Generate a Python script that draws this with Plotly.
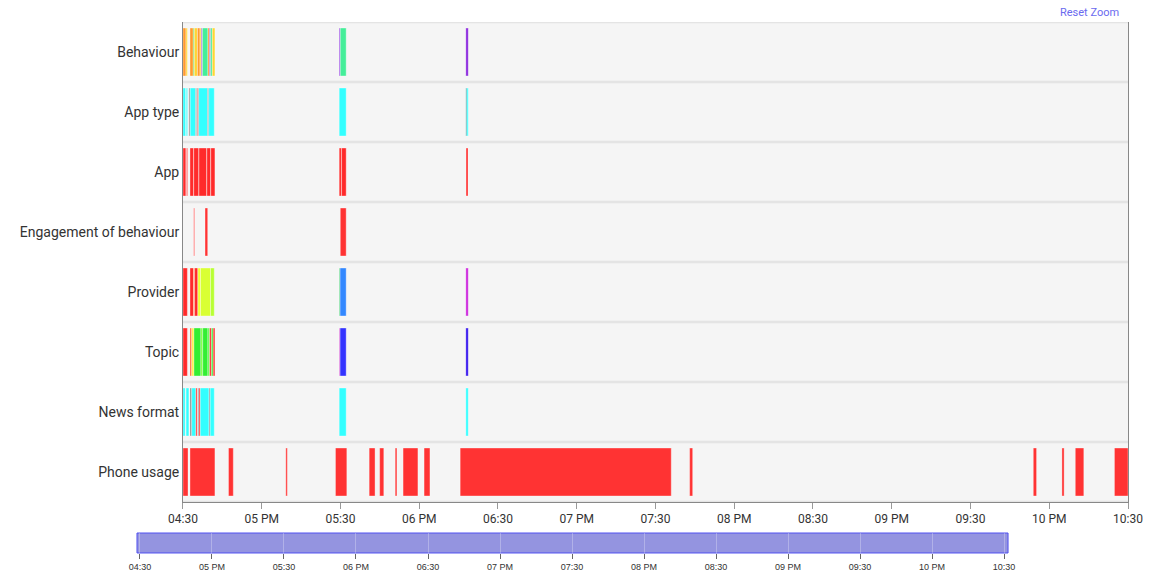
import plotly.graph_objects as go
from datetime import datetime

DAY = "2023-01-01 "

rows = ["Behaviour", "App type", "App", "Engagement of behaviour",
        "Provider", "Topic", "News format", "Phone usage"]

tick_times = ["16:30", "17:00", "17:30", "18:00", "18:30", "19:00", "19:30",
              "20:00", "20:30", "21:00", "21:30", "22:00", "22:30"]
tick_labels = ["04:30", "05 PM", "05:30", "06 PM", "06:30", "07 PM", "07:30",
               "08 PM", "08:30", "09 PM", "09:30", "10 PM", "10:30"]

OR, YE, GR, MI, PU = "#ff9a2e", "#ffd633", "#66dd44", "#44ee99", "#8a2be2"
CY, GY, RD, TE = "#33ffff", "#8c8c8c", "#ff2a2a", "#2a9d9d"

behaviour = [("16:30:00", "16:31:09", OR), ("16:31:09", "16:31:40", YE),
             ("16:32:40", "16:33:55", OR), ("16:33:55", "16:34:20", GR),
             ("16:34:20", "16:35:30", YE), ("16:35:30", "16:36:30", OR),
             ("16:36:30", "16:37:00", YE), ("16:37:00", "16:37:25", PU),
             ("16:37:25", "16:39:30", MI), ("16:39:30", "16:40:05", OR),
             ("16:40:05", "16:40:30", PU), ("16:40:30", "16:41:10", MI),
             ("16:41:10", "16:42:10", YE),
             ("17:29:30", "17:29:55", PU), ("17:29:55", "17:32:10", MI),
             ("18:17:45", "18:18:40", "#8822dd")]

app_type = [("16:30:00", "16:31:00", CY), ("16:31:15", "16:31:45", CY),
            ("16:32:15", "16:32:45", GY), ("16:32:45", "16:34:50", CY),
            ("16:34:50", "16:35:15", GY), ("16:35:15", "16:35:30", CY),
            ("16:35:30", "16:35:58", RD), ("16:35:58", "16:39:20", CY),
            ("16:39:20", "16:39:48", GY), ("16:39:48", "16:41:55", CY),
            ("17:29:30", "17:32:10", CY),
            ("18:17:45", "18:18:10", TE), ("18:18:10", "18:18:40", CY)]

app = [("16:30:00", "16:31:05", RD), ("16:31:20", "16:31:45", RD),
       ("16:32:40", "16:34:00", RD), ("16:34:05", "16:36:00", RD),
       ("16:36:05", "16:39:00", RD), ("16:39:05", "16:40:30", RD),
       ("16:40:35", "16:42:10", RD),
       ("17:29:30", "17:30:20", RD), ("17:30:25", "17:32:10", RD),
       ("18:17:50", "18:18:35", RD)]

engagement = [("16:34:00", "16:34:30", "#ff8080"),
              ("16:38:23", "16:39:25", "#ff3333"),
              ("17:29:55", "17:32:10", "#ff3333")]

provider = [("16:30:00", "16:31:40", RD), ("16:32:40", "16:34:00", RD),
            ("16:34:00", "16:34:25", "#ff8833"), ("16:34:25", "16:35:40", RD),
            ("16:35:40", "16:36:40", "#eeff33"), ("16:36:40", "16:40:30", "#d9ff33"),
            ("16:40:30", "16:41:55", "#b8ff33"),
            ("17:29:30", "17:29:50", "#33cc66"), ("17:29:50", "17:32:10", "#3388ff"),
            ("18:17:45", "18:18:40", "#cc22dd")]

topic = [("16:30:00", "16:31:40", RD), ("16:32:40", "16:33:20", "#ff6633"),
         ("16:33:20", "16:34:10", "#ffee44"), ("16:34:10", "16:36:50", "#33ee33"),
         ("16:36:50", "16:37:30", "#77ff33"), ("16:37:30", "16:39:30", "#33ee33"),
         ("16:39:30", "16:40:10", "#55ff44"), ("16:40:10", "16:40:50", RD),
         ("16:40:50", "16:41:30", "#33ee33"), ("16:41:30", "16:42:10", RD),
         ("17:29:30", "17:29:50", "#cc33cc"), ("17:29:50", "17:32:10", "#3333ff"),
         ("18:17:45", "18:18:40", "#3311ee")]

news_format = [("16:30:00", "16:30:50", CY), ("16:31:10", "16:32:15", CY),
               ("16:32:40", "16:33:20", GY), ("16:33:20", "16:34:55", CY),
               ("16:34:55", "16:35:25", RD), ("16:35:40", "16:36:05", GY),
               ("16:36:05", "16:36:35", RD), ("16:36:35", "16:39:55", CY),
               ("16:39:55", "16:40:22", GY), ("16:40:22", "16:41:55", CY),
               ("17:29:30", "17:32:10", CY), ("18:17:45", "18:18:40", CY)]

PU_RED = "#ff3333"
phone_usage = [("16:30:00", "16:31:55", PU_RED), ("16:32:40", "16:42:10", PU_RED),
               ("16:47:20", "16:49:10", PU_RED), ("17:09:10", "17:09:45", PU_RED),
               ("17:28:05", "17:32:25", PU_RED), ("17:40:55", "17:43:10", PU_RED),
               ("17:44:55", "17:46:30", PU_RED), ("17:50:50", "17:51:30", PU_RED),
               ("17:53:50", "17:59:30", PU_RED), ("18:01:50", "18:04:05", PU_RED),
               ("18:15:35", "19:36:00", PU_RED), ("19:43:00", "19:44:10", PU_RED),
               ("21:53:55", "21:55:10", PU_RED), ("22:04:50", "22:05:40", PU_RED),
               ("22:09:55", "22:13:10", PU_RED), ("22:24:50", "22:30:00", PU_RED)]

row_data = [behaviour, app_type, app, engagement, provider, topic, news_format, phone_usage]


def ts(t):
    return datetime.strptime(DAY + t, "%Y-%m-%d %H:%M:%S")


fig = go.Figure()
for name, segs in zip(rows, row_data):
    base = [DAY + s for s, e, c in segs]
    dur = [(ts(e) - ts(s)).total_seconds() * 1000 for s, e, c in segs]
    cols = [c for s, e, c in segs]
    fig.add_trace(go.Bar(
        y=[name] * len(segs), x=dur, base=base, orientation="h",
        marker=dict(color=cols, line=dict(color="rgba(255,255,255,0.7)", width=0.5)),
        width=0.8, showlegend=False, hoverinfo="skip", xaxis="x", yaxis="y"))

shapes = []
for i in range(len(rows)):
    shapes.append(dict(type="rect", xref="x domain", yref="y", x0=0, x1=1,
                       y0=i - 0.478, y1=i + 0.478, fillcolor="#f5f5f5",
                       line=dict(width=0), layer="below"))

# navigator
nav_ticks = [DAY + t + ":00" for t in tick_times]
fig.add_trace(go.Scatter(x=[DAY + "16:30:00", DAY + "22:30:00"], y=[0.5, 0.5],
                         mode="lines", line=dict(width=0), xaxis="x2", yaxis="y2",
                         showlegend=False, hoverinfo="skip"))
shapes.append(dict(type="rect", xref="x2 domain", yref="y2 domain", x0=0, x1=1,
                   y0=0, y1=1, fillcolor="#9494e0",
                   line=dict(color="#5050f0", width=1), layer="below"))

main_ticks = [DAY + t + ":00" for t in tick_times]

fig.update_layout(
    width=1160, height=573,
    margin=dict(l=130, r=32, t=22, b=5, autoexpand=False),
    paper_bgcolor="white", plot_bgcolor="#e4e4e4",
    font=dict(family="Roboto, sans-serif", color="#333333"),
    barmode="overlay",
    shapes=shapes,
    xaxis=dict(type="date", domain=[0.0531, 1.0],
               range=[DAY + "16:30:00", DAY + "22:30:00"],
               tickvals=main_ticks, ticktext=tick_labels,
               tickfont=dict(size=12, color="#333333"),
               showgrid=False, zeroline=False, showline=True,
               linecolor="#888888", linewidth=1,
               ticks="outside", ticklen=6, tickcolor="#999999",
               anchor="y", fixedrange=True, automargin=False),
    yaxis=dict(type="category", categoryorder="array", categoryarray=rows,
               range=[7.5, -0.5], domain=[0.1209, 1.0],
               tickfont=dict(size=14, color="#333333"),
               showgrid=False, zeroline=False, showline=True, mirror=True,
               linecolor="#888888", linewidth=1, ticks="",
               ticklabelstandoff=0, anchor="x", fixedrange=True, automargin=False),
    xaxis2=dict(type="date", domain=[0.0070, 0.8798],
                range=[DAY + "16:28:45", DAY + "22:31:40"],
                tickvals=nav_ticks, ticktext=tick_labels,
                tickfont=dict(size=9, color="#333333", family="Liberation Sans, Arial"),
                showgrid=True, gridcolor="rgba(255,255,255,0.28)", gridwidth=1,
                zeroline=False, showline=False,
                ticks="outside", ticklen=5, tickcolor="#666666",
                anchor="y2", fixedrange=True, automargin=False),
    yaxis2=dict(domain=[0.0275, 0.0641], range=[0, 1], visible=False,
                anchor="x2", fixedrange=True, automargin=False),
    annotations=[dict(text="Reset Zoom", xref="paper", yref="paper",
                      x=0.961, y=1.0165, xanchor="center", yanchor="middle",
                      showarrow=False, font=dict(size=11, color="#6a6aef"))],
)

fig.write_html("out.html", config={"displayModeBar": False},
               post_script="document.body.style.margin='0';document.body.style.overflow='hidden';")
